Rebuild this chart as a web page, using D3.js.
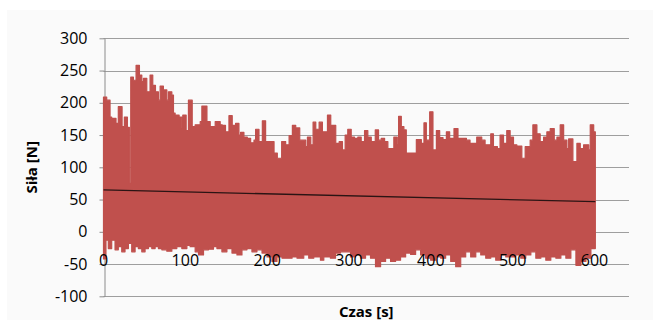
<!DOCTYPE html>
<html>
<head>
<meta charset="utf-8">
<script src="https://cdn.jsdelivr.net/npm/d3@7"></script>
<style>
  html, body { margin: 0; padding: 0; background: #ffffff; }
  svg { display: block; }
</style>
</head>
<body>
<svg id="chart" width="658" height="320"></svg>
<script>
// Force signal envelope: upper peaks (time [s], force [N])
const upperT = [0, 3.9, 8.0, 10.0, 15.3, 18.1, 22.7, 25.5, 29.2, 31.6, 33.3, 36.5, 39.8, 43.9, 46.8, 48.8, 52.9, 56.9, 60.2, 63.5,
  67.1, 69.2, 73.2, 77.4, 79.4, 83.5, 85.5, 87.5, 92.4, 95.7, 96.9, 101, 103.8, 108.4, 112, 118.2, 120.2, 126.4, 130.4, 136.5,
  142.6, 145.1, 149.1, 153.3, 157.3, 161.4, 165.5, 167.5, 171.6, 175.7, 179.8, 183.9, 185.9, 190, 194.1, 198.1, 204.2, 208.4, 212.4, 217.7,
  222.6, 226.8, 230.8, 234.9, 239.8, 247.1, 249.2, 253.3, 256.1, 259.4, 263.5, 267.5, 273.7, 277.7, 283.8, 288, 292, 295.3, 298.5, 302.7,
  306.7, 310.8, 314.9, 319, 323, 327.2, 332.1, 336.1, 339.4, 343.5, 347.5, 354.8, 359, 360.6, 363.9, 367.1, 370, 382.3, 388.4, 391.6,
  394.5, 398.6, 402.6, 406.8, 410.8, 414.9, 419, 423, 428.3, 433.2, 443.5, 447.9, 456.1, 462.2, 466.3, 473.2, 476.5, 481.4, 484.6, 488.8,
  492.8, 496.9, 501, 505.1, 511.2, 515.3, 521.4, 524.7, 529.6, 533.6, 537.8, 541.8, 545.9, 550.8, 554.1, 558.1, 562.3, 566.3, 568.4, 573.6,
  578.5, 582.6, 586.7, 592.9, 594.8, 599];
const upperV = [209, 204, 178, 176, 168, 194, 163, 178, 162, 75, 240, 235, 258, 243, 233, 238, 217, 243, 227, 217,
  204, 226, 220, 204, 217, 212, 184, 181, 178, 161, 181, 157, 204, 163, 166, 171, 195, 171, 163, 171,
  166, 165, 155, 180, 165, 168, 150, 154, 147, 145, 138, 142, 159, 140, 172, 140, 140, 122, 114, 140,
  135, 149, 165, 161, 142, 132, 147, 135, 170, 159, 170, 155, 181, 165, 137, 140, 127, 150, 159, 147,
  145, 147, 140, 157, 147, 140, 158, 142, 145, 140, 129, 147, 135, 179, 163, 158, 122, 143, 137, 169,
  142, 186, 127, 157, 146, 143, 155, 145, 160, 145, 142, 137, 147, 142, 135, 152, 132, 129, 150, 137,
  157, 147, 135, 133, 114, 132, 142, 166, 152, 140, 147, 155, 160, 142, 147, 166, 142, 129, 144, 109,
  137, 129, 135, 127, 166, 155];

// Force signal envelope: lower troughs (time [s], force [N])
const lowerT = [0, 3, 5.9, 10, 14.1, 18.1, 22.3, 26.3, 30.4, 34.5, 38.6, 42.6, 46.8, 50.8, 54.9, 59, 63.1, 67.1, 71.3, 77.4,
  83.5, 89.6, 95.7, 101.9, 105.9, 112, 116.1, 122.2, 128.3, 134.4, 138.6, 144.7, 150.8, 157, 163.1, 169.2, 175.3, 181.4, 187.5, 193.7,
  199.8, 205.9, 212, 218.2, 230.4, 236.5, 244.7, 250.8, 256.9, 265.1, 269.2, 277.3, 283.5, 289.6, 301.8, 307.9, 314.1, 320.2, 326.3, 332.4,
  338.6, 344.7, 350.8, 356.9, 363, 369.2, 375.3, 381.4, 387.5, 393.6, 399.8, 405.9, 412, 418.1, 424.3, 430.4, 436.5, 442.6, 448.7, 454.9,
  461, 467.1, 473.2, 479.3, 485.5, 491.6, 503.8, 509.9, 516, 522.2, 528.3, 534.4, 540.5, 546.6, 552.8, 558.9, 565, 571.1, 577.3, 583.4,
  589.5, 595.6];
const lowerV = [-42, -13, -26, -13, -28, -23, -31, -26, -18, -31, -23, -26, -31, -26, -23, -26, -23, -26, -28, -30,
  -26, -23, -26, -21, -23, -31, -36, -28, -27, -23, -26, -31, -26, -33, -36, -28, -26, -31, -28, -33,
  -39, -46, -39, -41, -39, -41, -36, -41, -39, -44, -39, -41, -33, -31, -39, -36, -41, -36, -41, -54,
  -46, -41, -46, -44, -39, -33, -35, -28, -36, -41, -44, -39, -41, -36, -46, -54, -39, -31, -39, -31,
  -36, -41, -39, -44, -36, -39, -36, -41, -36, -31, -41, -39, -44, -39, -41, -36, -41, -28, -52, -46,
  -41, -26];

const signalEnd = 601;

// Linear trend of the force
const trendT = [0, 601];
const trendV = [65, 46.7];

const yTicks = [-100, -50, 0, 50, 100, 150, 200, 250, 300];
const xTicks = [0, 100, 200, 300, 400, 500, 600];
const yTitle = "Siła [N]";
const xTitle = "Czas [s]";

const FONT = "'Open Sans', 'Noto Sans', sans-serif";
const RED = "#C0504D";

const svg = d3.select("#chart");
const x = d3.scaleLinear().domain([0, 600]).range([103.5, 594.5]);
const y = d3.scaleLinear().domain([-100, 300]).range([296.3, 38.3]);
const plotRight = 629;
const snap = v => Math.round(v) + 0.5;

// chart area background
svg.append("rect")
  .attr("x", 7).attr("y", 10).attr("width", 646).attr("height", 310)
  .attr("fill", "#fafafa");

// horizontal gridlines
svg.append("g")
  .selectAll("line")
  .data(yTicks)
  .join("line")
  .attr("x1", x(0)).attr("x2", plotRight)
  .attr("y1", d => snap(y(d))).attr("y2", d => snap(y(d)))
  .attr("stroke", "#9e9e9e").attr("stroke-width", 1);

// vertical axis (plain hyphen for negative numbers)
const yAxis = svg.append("g")
  .attr("transform", `translate(${Math.round(x(0)) + 0.5},0)`)
  .call(d3.axisLeft(y).tickValues(yTicks).tickSize(5).tickSizeOuter(0).tickPadding(12)
    .tickFormat(d => String(d)));
yAxis.select(".domain").attr("stroke", "#8c8c8c");
yAxis.selectAll(".tick line").attr("stroke", "#8c8c8c");
yAxis.selectAll("text")
  .attr("font-family", FONT).attr("font-size", 16).attr("fill", "#000");

// horizontal axis ticks along zero
const y0 = snap(y(0));
const xAxis = svg.append("g")
  .attr("transform", `translate(0,${y0})`)
  .call(d3.axisBottom(x).tickValues(xTicks).tickSize(5).tickSizeOuter(0).tickFormat(""));
xAxis.select(".domain").remove();
xAxis.selectAll(".tick line").attr("stroke", "#8c8c8c");

// force signal band: upper peaks forward, lower troughs back
const upperPts = upperT.map((t, i) => ({ t, v: upperV[i] }));
upperPts.push({ t: signalEnd, v: upperV[upperV.length - 1] });
const lowerPts = lowerT.map((t, i) => ({ t, v: lowerV[i] }));
lowerPts.push({ t: signalEnd, v: lowerV[lowerV.length - 1] });

const upperLine = d3.line().x(d => x(d.t)).y(d => y(d.v)).curve(d3.curveStepAfter);
const lowerLine = d3.line().x(d => x(d.t)).y(d => y(d.v)).curve(d3.curveStepBefore);
const bandPath = upperLine(upperPts) + "L" + lowerLine(lowerPts.slice().reverse()).slice(1) + "Z";

svg.append("path")
  .attr("d", bandPath)
  .attr("fill", RED)
  .attr("stroke", RED)
  .attr("stroke-width", 1.2)
  .attr("stroke-linejoin", "round");

// trend line
const trendPts = trendT.map((t, i) => ({ t, v: trendV[i] }));
svg.append("path")
  .attr("d", d3.line().x(d => x(d.t)).y(d => y(d.v))(trendPts))
  .attr("fill", "none")
  .attr("stroke", "#2a1414")
  .attr("stroke-width", 1.3);

// horizontal axis labels
svg.append("g")
  .selectAll("text")
  .data(xTicks)
  .join("text")
  .attr("x", d => x(d))
  .attr("y", 266)
  .attr("text-anchor", "middle")
  .attr("font-family", FONT).attr("font-size", 16).attr("fill", "#000")
  .text(d => d);

// axis titles
svg.append("text")
  .attr("transform", `translate(37,${(y(300) + y(-100)) / 2}) rotate(-90)`)
  .attr("text-anchor", "middle")
  .attr("font-family", FONT).attr("font-size", 15).attr("font-weight", "bold").attr("fill", "#000")
  .text(yTitle);

svg.append("text")
  .attr("x", (x(0) + plotRight) / 2)
  .attr("y", 317)
  .attr("text-anchor", "middle")
  .attr("font-family", FONT).attr("font-size", 15).attr("font-weight", "bold").attr("fill", "#000")
  .text(xTitle);
</script>
</body>
</html>
